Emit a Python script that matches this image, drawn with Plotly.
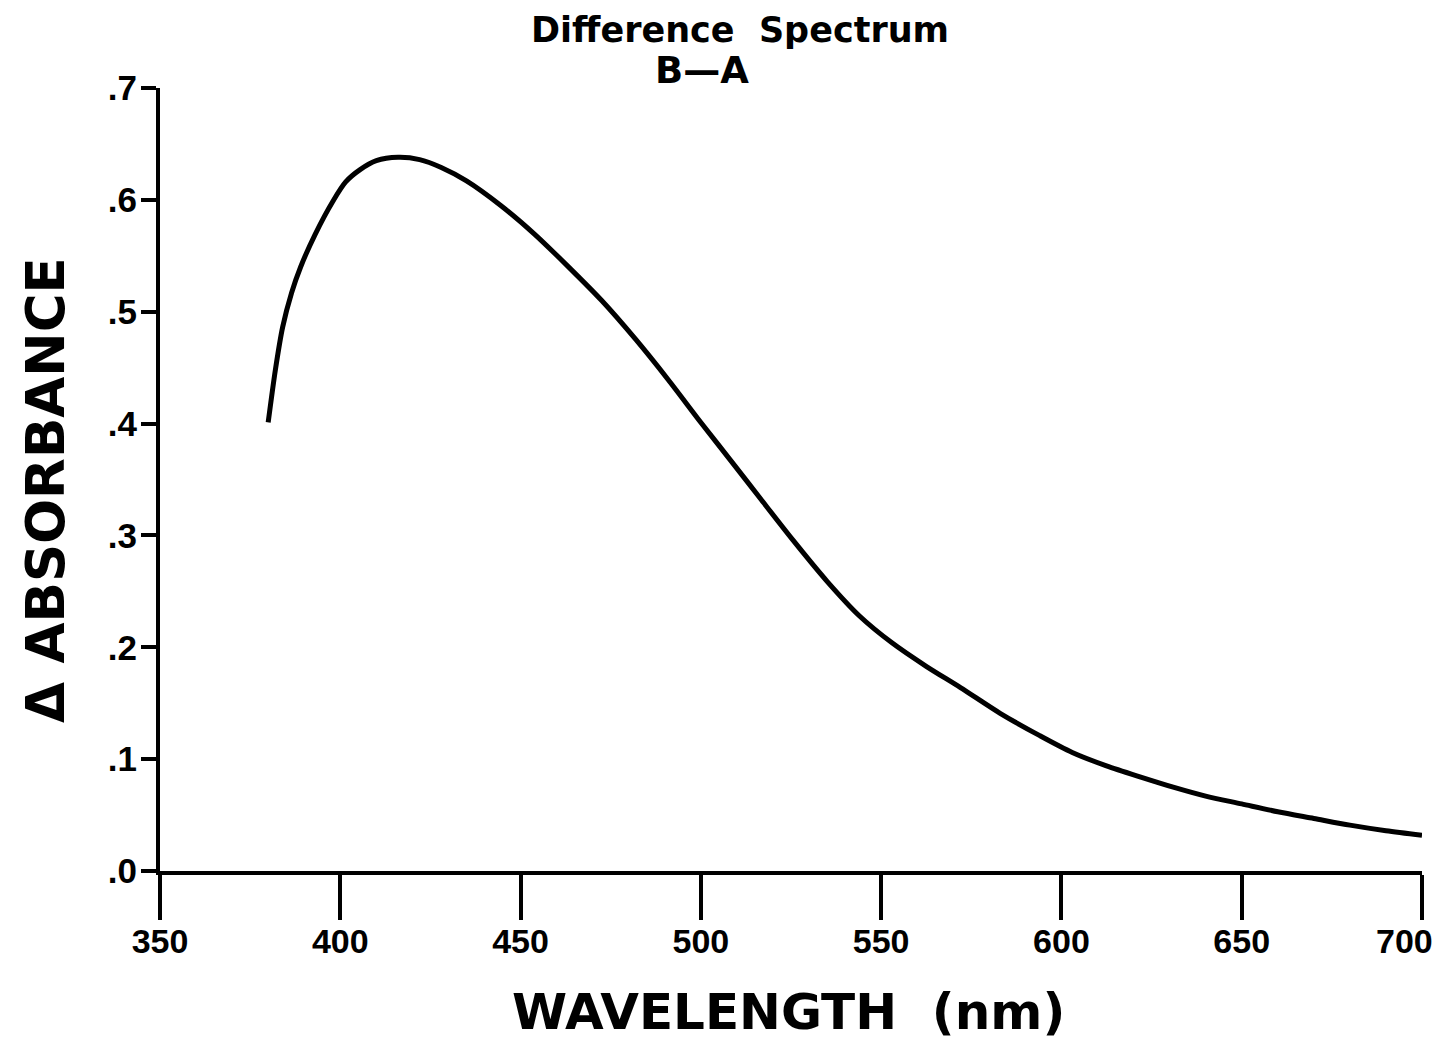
import plotly.graph_objects as go

# Data
wavelength_nm = [380, 382, 384, 386.5, 389, 393, 398, 401.5, 405.5, 410, 416, 422,
                 428, 435, 444.5, 454, 463, 472.5, 482, 491, 500, 509.5, 516.5,
                 525.5, 535, 544, 553, 562.5, 572, 583, 594, 603, 612.5, 622, 631,
                 640, 650, 660, 670, 680, 690, 700]
delta_absorbance = [0.401, 0.448, 0.486, 0.517, 0.540, 0.569, 0.599, 0.616, 0.627,
                    0.635, 0.638, 0.636, 0.629, 0.617, 0.595, 0.569, 0.541, 0.510,
                    0.475, 0.439, 0.401, 0.362, 0.333, 0.296, 0.259, 0.228, 0.204,
                    0.183, 0.164, 0.141, 0.121, 0.106, 0.094, 0.084, 0.075, 0.067,
                    0.060, 0.053, 0.047, 0.041, 0.036, 0.032]

x_tick_vals = [350, 400, 450, 500, 550, 600, 650, 700]
x_tick_text = ["350", "400", "450", "500", "550", "600", "650", "700"]
y_tick_vals = [0, 0.1, 0.2, 0.3, 0.4, 0.5, 0.6, 0.7]
y_tick_text = [".0", ".1", ".2", ".3", ".4", ".5", ".6", ".7"]

title_line1 = "Difference\u00a0\u00a0Spectrum"
title_line2 = "B\u2014A"
x_title = "WAVELENGTH\u00a0\u00a0(nm)"
y_title = "\u0394\u00a0ABSORBANCE"

W, H = 1441, 1040
L, R, T, B = 160, 19, 88, 169
pw, ph = W - L - R, H - T - B

def px_to_paper_x(px):
    return (px - L) / pw

def px_to_paper_y(py):
    return (H - B - py) / ph

fig = go.Figure()
fig.add_trace(go.Scatter(
    x=wavelength_nm, y=delta_absorbance, mode="lines",
    line=dict(color="black", width=5, shape="spline", smoothing=0.8),
    showlegend=False, hoverinfo="skip"))

x_tick_font = dict(family="Liberation Sans, Arial, sans-serif", size=34,
                   color="black", weight="bold")
y_tick_font = dict(family="Liberation Sans, Arial, sans-serif", size=35,
                   color="black", weight="bold")
title_font_family = "DejaVu Sans, sans-serif"

# the last x tick label sits against the right page edge, so it is drawn
# as an annotation anchored to the axis value and nudged inward
last_idx = len(x_tick_vals) - 1
x_tick_text_axis = [t if i < last_idx else "" for i, t in enumerate(x_tick_text)]

fig.update_layout(
    width=W, height=H,
    margin=dict(l=L, r=R, t=T, b=B, pad=0, autoexpand=False),
    paper_bgcolor="white", plot_bgcolor="white",
    font=dict(family="Liberation Sans, Arial, sans-serif", color="black"),
    xaxis=dict(range=[350, 700], tickvals=x_tick_vals, ticktext=x_tick_text_axis,
               showgrid=False, zeroline=False, showline=True, linecolor="black",
               linewidth=4, ticks="outside", ticklen=45, tickwidth=4,
               tickcolor="black", tickfont=x_tick_font, ticklabelstandoff=-8,
               ticklabeloverflow="allow", automargin=False),
    yaxis=dict(range=[0, 0.7], tickvals=y_tick_vals, ticktext=y_tick_text,
               showgrid=False, zeroline=False, showline=True, linecolor="black",
               linewidth=4, ticks="outside", ticklen=15, tickwidth=4,
               tickcolor="black", tickfont=y_tick_font, ticklabelstandoff=-3,
               automargin=False),
    annotations=[
        dict(text=x_tick_text[last_idx], xref="x", yref="paper",
             x=x_tick_vals[last_idx], y=px_to_paper_y(941), xanchor="right",
             yanchor="middle", xshift=13, showarrow=False, font=x_tick_font),
        dict(text="<b>%s</b>" % title_line1, xref="paper", yref="paper",
             x=px_to_paper_x(740), y=px_to_paper_y(30), xanchor="center",
             yanchor="middle", showarrow=False,
             font=dict(family=title_font_family, size=35, color="black")),
        dict(text="<b>%s</b>" % title_line2, xref="paper", yref="paper",
             x=px_to_paper_x(702), y=px_to_paper_y(70), xanchor="center",
             yanchor="middle", showarrow=False,
             font=dict(family=title_font_family, size=37, color="black")),
        dict(text="<b>%s</b>" % x_title, xref="paper", yref="paper",
             x=px_to_paper_x(788), y=px_to_paper_y(1012), xanchor="center",
             yanchor="middle", showarrow=False,
             font=dict(family=title_font_family, size=50, color="black")),
        dict(text="<b>%s</b>" % y_title, xref="paper", yref="paper",
             x=px_to_paper_x(45), y=px_to_paper_y(490), xanchor="center",
             yanchor="middle", showarrow=False, textangle=-90,
             font=dict(family=title_font_family, size=53, color="black")),
    ],
)

fig.write_html("out.html")
